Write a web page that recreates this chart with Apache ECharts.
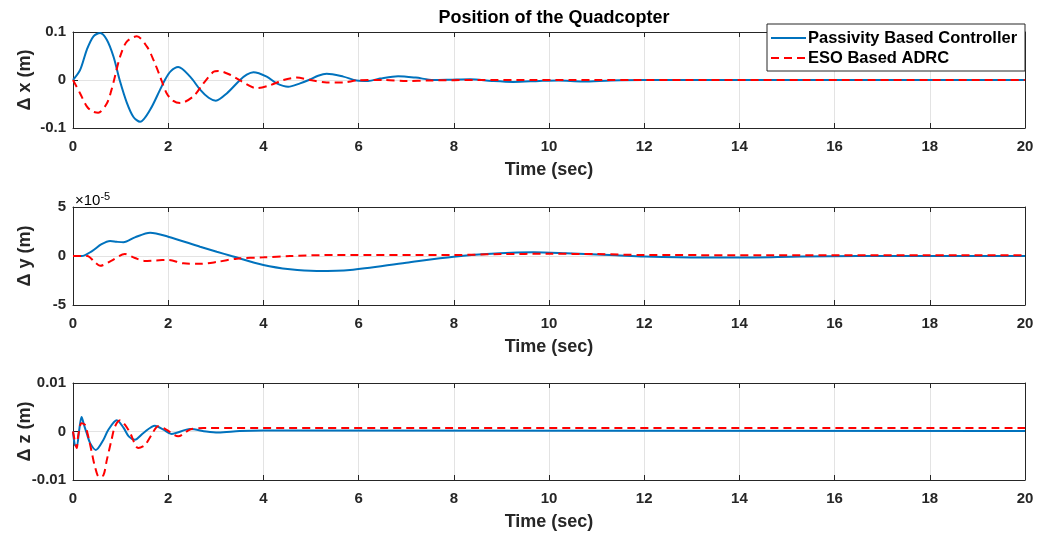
<!DOCTYPE html>
<html><head><meta charset="utf-8">
<script src="https://cdn.jsdelivr.net/npm/echarts@6/dist/echarts.min.js"></script>
<style>html,body{margin:0;padding:0;background:#fff}#c{width:1040px;height:535px}</style>
</head><body><div id="c"></div>
<script>
// ---- data (time in sec, value) ----
const seriesNames = ['Passivity Based Controller','ESO Based ADRC'];
const pbcX = [[0,0],[0.15,0.021],[0.29,0.063],[0.43,0.091],[0.57,0.098],[0.71,0.084],[0.85,0.049],[0.98,0],[1.13,-0.047],[1.27,-0.077],[1.41,-0.087],[1.62,-0.062],[1.83,-0.02],[1.93,0],[2.05,0.018],[2.21,0.027],[2.46,0.007],[2.67,-0.02],[2.85,-0.037],[3.0,-0.043],[3.23,-0.028],[3.51,0],[3.65,0.011],[3.79,0.016],[4.07,0.007],[4.28,-0.007],[4.52,-0.014],[4.77,-0.007],[4.98,0.001],[5.15,0.009],[5.33,0.013],[5.68,0.007],[5.96,-0.001],[6.2,-0.002],[6.45,0.003],[6.83,0.008],[7.2,0.005],[7.57,0],[7.9,0.0005],[8.34,0.0015],[8.8,-0.002],[9.25,-0.004],[9.8,-0.002],[10.2,-0.001],[10.7,-0.003],[11.3,-0.001],[12,0],[20,0]];
const esoX = [[0,0],[0.15,-0.028],[0.29,-0.055],[0.4,-0.065],[0.53,-0.068],[0.71,-0.049],[0.81,-0.02],[0.88,0.007],[0.99,0.049],[1.13,0.08],[1.34,0.091],[1.55,0.07],[1.69,0.042],[1.83,0.007],[1.97,-0.028],[2.1,-0.043],[2.25,-0.048],[2.53,-0.034],[2.74,-0.007],[2.95,0.017],[3.05,0.019],[3.3,0.011],[3.51,-0.001],[3.86,-0.017],[4.14,-0.011],[4.42,0],[4.7,0.005],[4.98,0],[5.33,-0.005],[5.68,-0.005],[5.96,-0.001],[6.5,0],[7.0,-0.002],[7.5,-0.001],[8.5,0],[20,0]];
// y in units of 1e-5 m
const pbcY = [[0,0],[0.18,0],[0.4,0.5],[0.6,1.2],[0.78,1.53],[0.92,1.45],[1.06,1.4],[1.3,1.9],[1.62,2.38],[2.0,1.97],[2.67,0.95],[3.02,0.44],[3.33,0],[4.0,-0.92],[4.56,-1.36],[5.12,-1.53],[5.82,-1.43],[7.0,-0.68],[8.0,-0.07],[8.97,0.27],[9.67,0.37],[10.36,0.27],[11.4,0.07],[12,-0.05],[13.2,-0.15],[14,-0.15],[15.3,-0.05],[16.5,0],[20,0]];
const esoY = [[0,0],[0.3,0],[0.45,-0.6],[0.57,-1.0],[0.8,-0.5],[1.09,0.2],[1.3,-0.2],[1.5,-0.5],[1.75,-0.45],[2.0,-0.4],[2.32,-0.75],[2.67,-0.8],[3.02,-0.61],[3.44,-0.27],[4.0,-0.14],[4.56,0],[5.5,0.1],[8,0.1],[9,0.2],[10,0.22],[11,0.2],[12,0.1],[20,0.07]];
const pbcZ = [[0,0],[0.04,-0.0028],[0.08,-0.003],[0.13,0.0003],[0.18,0.003],[0.23,0.0014],[0.29,-0.0004],[0.36,-0.0024],[0.48,-0.0038],[0.64,-0.0017],[0.74,0.0003],[0.92,0.0023],[1.06,0.0008],[1.17,-0.001],[1.3,-0.0017],[1.48,-0.0003],[1.72,0.0012],[1.9,0.0004],[2.07,-0.0005],[2.46,0.0005],[2.8,0],[3.05,-0.0002],[3.5,0.0001],[4,0.0002],[20,0.0001]];
const esoZ = [[0,0],[0.08,-0.0034],[0.11,-0.0008],[0.18,0.0017],[0.25,0.0014],[0.32,-0.001],[0.39,-0.0041],[0.46,-0.0072],[0.55,-0.0094],[0.64,-0.009],[0.71,-0.0059],[0.81,-0.0017],[0.88,0.001],[0.99,0.0023],[1.09,0.0014],[1.2,-0.0003],[1.37,-0.0034],[1.51,-0.0028],[1.65,-0.0007],[1.79,0.0011],[1.96,0.0004],[2.21,-0.001],[2.46,0.0004],[2.74,0.0007],[20,0.0007]];
const yLabels = ['\u0394 x (m)','\u0394 y (m)','\u0394 z (m)'];
const yRanges = [[-0.1,0.1,0.1],[-5,5,5],[-0.01,0.01,0.01]];
const xRange = [0,20,2];

const FONT = '"Liberation Sans", Arial, Helvetica, sans-serif';
const TXT = '#262626';
const BLUE = '#0072BD', RED = '#FF0000';
const DASH = [8,5];
const grids = [
  {left:73, right:15, top:32, height:96, outerBoundsMode:'none', containLabel:false},
  {left:73, right:15, top:207, height:98, outerBoundsMode:'none', containLabel:false},
  {left:73, right:15, top:383, height:97, outerBoundsMode:'none', containLabel:false}
];
const xAxes = [], yAxes = [], series = [];
const fmtY = v => { if (Math.abs(v) < 1e-12) return '0'; return String(+v.toPrecision(3)); };
const lineAx = {show:true, onZero:false, lineStyle:{color:TXT, width:1}};
const tickAx = {show:true, inside:true, length:5, lineStyle:{color:TXT}};
grids.forEach((g, i) => {
  const base = {gridIndex:i, type:'value', min:xRange[0], max:xRange[1], interval:xRange[2]};
  xAxes.push(Object.assign({}, base, {
    position:'bottom',
    name:'Time (sec)', nameLocation:'middle', nameGap:33, nameMoveOverlap:false,
    nameTextStyle:{fontFamily:FONT, fontWeight:'bold', fontSize:18, color:TXT},
    axisLine:lineAx, axisTick:tickAx,
    axisLabel:{margin:11, fontFamily:FONT, fontWeight:'bold', fontSize:15, color:TXT},
    splitLine:{show:true, lineStyle:{color:'#e3e3e3', width:1}}
  }));
  xAxes.push(Object.assign({}, base, {
    position:'top', axisLine:lineAx, axisTick:tickAx,
    axisLabel:{show:false}, splitLine:{show:false}
  }));
  const [mn, mx, iv] = yRanges[i];
  const yb = {gridIndex:i, type:'value', min:mn, max:mx, interval:iv};
  yAxes.push(Object.assign({}, yb, {
    position:'left',
    name:yLabels[i], nameLocation:'middle', nameGap:39, nameRotate:90, nameMoveOverlap:false,
    nameTextStyle:{fontFamily:FONT, fontWeight:'bold', fontSize:18, color:TXT},
    axisLine:lineAx, axisTick:tickAx,
    axisLabel:{margin:7, fontFamily:FONT, fontWeight:'bold', fontSize:15, color:TXT, formatter:fmtY},
    splitLine:{show:true, lineStyle:{color:'#e3e3e3', width:1}}
  }));
  yAxes.push(Object.assign({}, yb, {
    position:'right', axisLine:lineAx, axisTick:tickAx,
    axisLabel:{show:false}, splitLine:{show:false}
  }));
});
const data = [[pbcX, esoX],[pbcY, esoY],[pbcZ, esoZ]];
data.forEach((pair, i) => {
  series.push({name:seriesNames[0], type:'line', xAxisIndex:2*i, yAxisIndex:2*i, data:pair[0],
    smooth:0.3, symbol:'none', lineStyle:{color:BLUE, width:2}, itemStyle:{color:BLUE}, z:2});
  series.push({name:seriesNames[1], type:'line', xAxisIndex:2*i, yAxisIndex:2*i, data:pair[1],
    smooth:0.3, symbol:'none', lineStyle:{color:RED, width:2, type:DASH}, itemStyle:{color:RED}, z:3});
});

const chart = echarts.init(document.getElementById('c'), null, {renderer:'canvas'});
const LZ = 100;
const legTxt = t => ({text:t, fontFamily:FONT, fontWeight:'bold', fontSize:16.5, fill:'#000', verticalAlign:'middle'});
chart.setOption({
  backgroundColor:'#fff',
  animation:false,
  title:{text:'Position of the Quadcopter', left:549, textAlign:'center', top:4,
    textStyle:{fontFamily:FONT, fontWeight:'bold', fontSize:18, color:'#000'}},
  grid:grids, xAxis:xAxes, yAxis:yAxes, series:series,
  graphic:[
    {type:'text', left:75, top:191, z:LZ, style:{
      text:'{a|\u00d710}{b|-5}', rich:{a:{fontFamily:FONT, fontSize:15, color:TXT}, b:{fontFamily:FONT, fontSize:11, color:TXT, verticalAlign:'top', padding:[0,0,9,0]}}}},
    {type:'rect', z:LZ, shape:{x:767, y:24, width:258, height:47}, style:{fill:'#ffffff', stroke:TXT, lineWidth:1}},
    {type:'line', z:LZ+1, shape:{x1:771, y1:38, x2:806, y2:38}, style:{stroke:BLUE, lineWidth:2}},
    {type:'text', z:LZ+1, x:808, y:38, style:legTxt(seriesNames[0])},
    {type:'line', z:LZ+1, shape:{x1:771, y1:58, x2:806, y2:58}, style:{stroke:RED, lineWidth:2, lineDash:DASH}},
    {type:'text', z:LZ+1, x:808, y:58, style:legTxt(seriesNames[1])}
  ]
});
</script></body></html>
